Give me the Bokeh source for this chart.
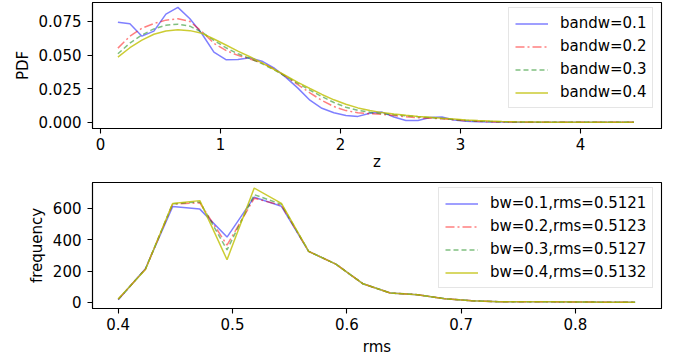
from bokeh.plotting import figure
from bokeh.layouts import column
from bokeh.models import Range1d, FixedTicker, Legend, LegendItem, NumeralTickFormatter
from bokeh.embed import file_html
from bokeh.resources import INLINE

FONT = "DejaVu Sans"

# ---------------- data: top panel (PDF vs z) ----------------
z = [0.145, 0.245, 0.345, 0.445, 0.545, 0.645, 0.745, 0.845, 0.945, 1.045,
     1.145, 1.245, 1.345, 1.445, 1.545, 1.645, 1.745, 1.845, 1.945, 2.045,
     2.145, 2.245, 2.345, 2.445, 2.545, 2.645, 2.745, 2.845, 2.945, 3.045,
     3.145, 3.245, 3.345, 3.445, 3.545, 3.645, 3.745, 3.845, 3.945, 4.045,
     4.145, 4.245, 4.345, 4.445]

pdf_bw01 = [0.0745, 0.0733, 0.0641, 0.0678, 0.0805, 0.0855, 0.0770, 0.0659, 0.0522, 0.0466,
            0.0468, 0.0480, 0.0455, 0.0405, 0.0335, 0.0255, 0.0165, 0.0105, 0.0072, 0.0052,
            0.0045, 0.0069, 0.0077, 0.0040, 0.0015, 0.0015, 0.0037, 0.0040, 0.0018, 0.0008,
            0.0005, 0.0004, 0.0003, 0.0002, 0.0002, 0.0002, 0.0001, 0.0001, 0.0001, 0.0001,
            0.0001, 0.0001, 0.0001, 0.0001]
pdf_bw02 = [0.0552, 0.0640, 0.0700, 0.0735, 0.0760, 0.0770, 0.0750, 0.0675, 0.0588, 0.0535,
            0.0498, 0.0472, 0.0442, 0.0398, 0.0342, 0.0280, 0.0220, 0.0163, 0.0118, 0.0088,
            0.0072, 0.0065, 0.0060, 0.0052, 0.0042, 0.0035, 0.0031, 0.0027, 0.0020, 0.0013,
            0.0008, 0.0005, 0.0004, 0.0003, 0.0002, 0.0002, 0.0002, 0.0001, 0.0001, 0.0001,
            0.0001, 0.0001, 0.0001, 0.0001]
pdf_bw03 = [0.0510, 0.0590, 0.0650, 0.0695, 0.0722, 0.0730, 0.0715, 0.0670, 0.0610, 0.0555,
            0.0510, 0.0475, 0.0437, 0.0392, 0.0342, 0.0290, 0.0240, 0.0192, 0.0148, 0.0113,
            0.0090, 0.0075, 0.0066, 0.0058, 0.0050, 0.0043, 0.0036, 0.0029, 0.0022, 0.0015,
            0.0010, 0.0007, 0.0005, 0.0004, 0.0003, 0.0002, 0.0002, 0.0002, 0.0001, 0.0001,
            0.0001, 0.0001, 0.0001, 0.0001]
pdf_bw04 = [0.0485, 0.0555, 0.0612, 0.0655, 0.0680, 0.0688, 0.0682, 0.0662, 0.0620, 0.0575,
            0.0530, 0.0488, 0.0443, 0.0395, 0.0347, 0.0298, 0.0252, 0.0208, 0.0168, 0.0135,
            0.0108, 0.0088, 0.0073, 0.0062, 0.0053, 0.0045, 0.0038, 0.0031, 0.0025, 0.0019,
            0.0014, 0.0010, 0.0007, 0.0005, 0.0004, 0.0003, 0.0002, 0.0002, 0.0001, 0.0001,
            0.0001, 0.0001, 0.0001, 0.0001]
top_labels = ["bandw=0.1", "bandw=0.2", "bandw=0.3", "bandw=0.4"]

# ---------------- data: bottom panel (frequency vs rms) ----------------
rms = [0.4, 0.4238, 0.4476, 0.4714, 0.4952, 0.519, 0.5428, 0.5666, 0.5904, 0.6142,
       0.638, 0.6618, 0.6856, 0.7094, 0.7332, 0.757, 0.7808, 0.8046, 0.8284, 0.8522]
freq_bw01 = [18, 215, 610, 594, 416, 670, 612, 325, 244, 119, 60, 50, 24, 11, 5, 5, 4, 3, 2, 2]
freq_bw02 = [20, 212, 625, 634, 365, 663, 618, 325, 244, 119, 60, 50, 24, 11, 5, 5, 4, 3, 2, 2]
freq_bw03 = [20, 212, 628, 640, 335, 686, 625, 325, 244, 119, 60, 50, 24, 11, 5, 5, 4, 3, 2, 2]
freq_bw04 = [22, 210, 630, 648, 272, 728, 630, 325, 244, 119, 60, 50, 24, 11, 5, 5, 4, 3, 2, 2]
bottom_labels = ["bw=0.1,rms=0.5121", "bw=0.2,rms=0.5123", "bw=0.3,rms=0.5127", "bw=0.4,rms=0.5132"]

top_xticks = [0, 1, 2, 3, 4]
top_yticks = [0.0, 0.025, 0.05, 0.075]
bot_xticks = [0.4, 0.5, 0.6, 0.7, 0.8]
bot_yticks = [0, 200, 400, 600]

# line styles
styles = [
    dict(line_color="#0000ff", line_alpha=0.5, line_dash="solid"),
    dict(line_color="#ff0000", line_alpha=0.5, line_dash="9 3 2 3"),
    dict(line_color="#008000", line_alpha=0.5, line_dash="5 3"),
    dict(line_color="#bfbf00", line_alpha=0.8, line_dash="solid"),
]


def make_fig(xr, yr, border_top, border_bottom, xlabel_standoff):
    p = figure(output_backend="svg", toolbar_location=None,
               frame_width=569, frame_height=126,
               min_border_left=92, min_border_right=14,
               min_border_top=border_top, min_border_bottom=border_bottom,
               x_range=Range1d(*xr), y_range=Range1d(*yr))
    p.xgrid.visible = False
    p.ygrid.visible = False
    p.outline_line_color = "black"
    p.outline_line_width = 1.1
    p.outline_line_alpha = 1
    for ax in (p.xaxis[0], p.yaxis[0]):
        ax.axis_line_color = "black"
        ax.axis_line_width = 1.1
        ax.major_tick_line_color = "black"
        ax.major_tick_line_width = 1.1
        ax.major_tick_out = 5
        ax.major_tick_in = 0
        ax.minor_tick_line_color = None
        ax.major_label_text_font = FONT
        ax.major_label_text_font_size = "15px"
        ax.major_label_text_color = "black"
        ax.axis_label_text_font = FONT
        ax.axis_label_text_font_size = "15px"
        ax.axis_label_text_font_style = "normal"
        ax.axis_label_text_color = "black"
    p.xaxis.major_label_standoff = 4
    p.yaxis.major_label_standoff = 6
    p.xaxis.axis_label_standoff = xlabel_standoff
    p.yaxis.axis_label_standoff = 4
    p.background_fill_color = "white"
    p.border_fill_color = "white"
    return p


def add_legend(p, renderers, labels, loc, spacing):
    leg = Legend(items=[LegendItem(label=l, renderers=[r]) for l, r in zip(labels, renderers)],
                 location=loc)
    leg.label_text_font = FONT
    leg.label_text_font_size = "15px"
    leg.label_text_color = "black"
    leg.glyph_width = 33
    leg.glyph_height = 15
    leg.label_height = 15
    leg.label_standoff = 12
    leg.spacing = spacing
    leg.padding = 6
    leg.margin = 0
    leg.border_line_color = "#cccccc"
    leg.border_line_width = 1
    leg.background_fill_color = "white"
    leg.background_fill_alpha = 0.8
    p.add_layout(leg)


# ---------------- top figure ----------------
p1 = make_fig((-0.0667, 4.675), (-0.0045, 0.0891), 2, 44, 0)
r_top = []
for ys, st in zip([pdf_bw01, pdf_bw02, pdf_bw03, pdf_bw04], styles):
    r_top.append(p1.line(z, ys, line_width=1.5, **st))
p1.xaxis.ticker = FixedTicker(ticks=top_xticks)
p1.yaxis.ticker = FixedTicker(ticks=top_yticks)
p1.xaxis.formatter = NumeralTickFormatter(format="0")
p1.yaxis.formatter = NumeralTickFormatter(format="0.000")
p1.xaxis.axis_label = "z"
p1.yaxis.axis_label = "PDF"
add_legend(p1, r_top, top_labels, (416, 20), 5)

# ---------------- bottom figure ----------------
p2 = make_fig((0.3775, 0.8753), (-38.2, 763.3), 9, 50, 5)
r_bot = []
for ys, st in zip([freq_bw01, freq_bw02, freq_bw03, freq_bw04], styles):
    r_bot.append(p2.line(rms, ys, line_width=1.5, **st))
p2.xaxis.ticker = FixedTicker(ticks=bot_xticks)
p2.yaxis.ticker = FixedTicker(ticks=bot_yticks)
p2.xaxis.formatter = NumeralTickFormatter(format="0.0")
p2.yaxis.formatter = NumeralTickFormatter(format="0")
p2.xaxis.axis_label = "rms"
p2.yaxis.axis_label = "frequency"
add_legend(p2, r_bot, bottom_labels, (346, 20), 5)

layout = column(p1, p2, spacing=0)
open("out.html", "w").write(file_html(layout, INLINE))
